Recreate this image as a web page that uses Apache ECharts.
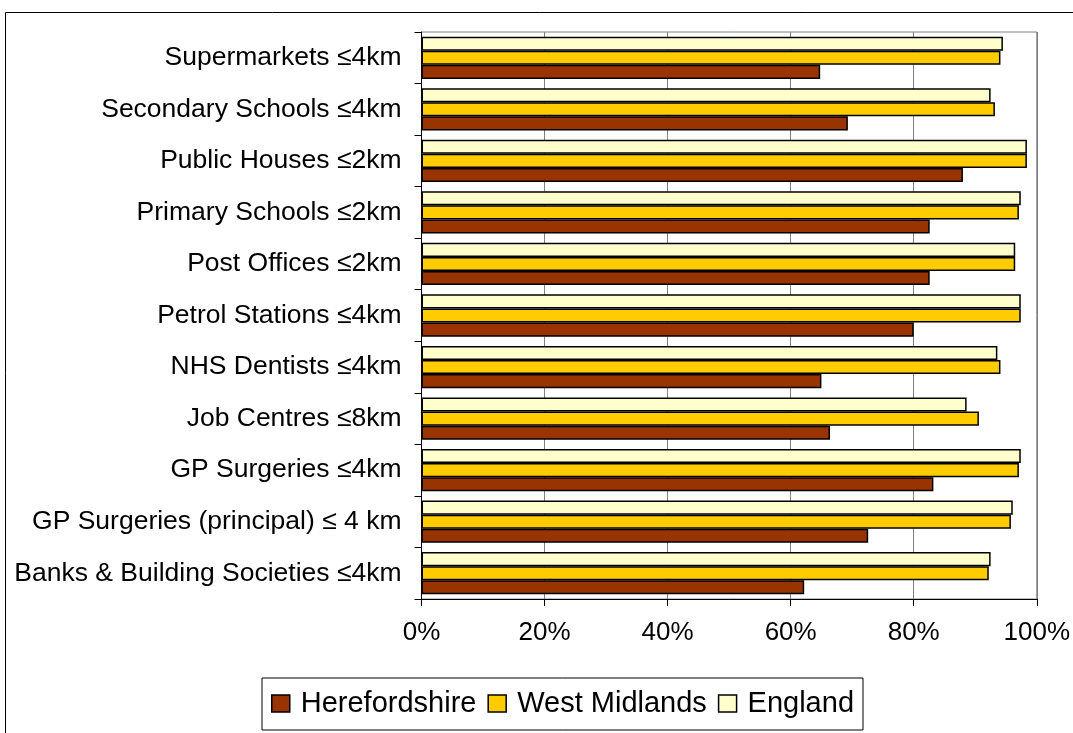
<!DOCTYPE html>
<html>
<head>
<meta charset="utf-8">
<script src="https://cdn.jsdelivr.net/npm/echarts@6/dist/echarts.min.js"></script>
<style>
html,body{margin:0;padding:0;background:#fff;}
#chart{width:1073px;height:733px;}
</style>
</head>
<body>
<div id="chart"></div>
<script>
// Categories listed bottom to top
var categories = [
  "Banks & Building Societies ≤4km",
  "GP Surgeries (principal) ≤ 4 km",
  "GP Surgeries ≤4km",
  "Job Centres ≤8km",
  "NHS Dentists ≤4km",
  "Petrol Stations ≤4km",
  "Post Offices ≤2km",
  "Primary Schools ≤2km",
  "Public Houses ≤2km",
  "Secondary Schools ≤4km",
  "Supermarkets ≤4km"
];
var seriesNames = ["Herefordshire", "West Midlands", "England"];
var herefordshire = [62.2, 72.6, 83.2, 66.4, 65.0, 80.0, 82.6, 82.6, 88.0, 69.3, 64.8];
var westMidlands  = [92.2, 95.8, 97.1, 90.6, 94.1, 97.4, 96.5, 97.1, 98.4, 93.2, 94.1];
var england       = [92.5, 96.1, 97.4, 88.6, 93.6, 97.4, 96.5, 97.4, 98.4, 92.5, 94.5];
var xTicks = [0, 20, 40, 60, 80, 100];

var colors = ["#993300", "#FFCC00", "#FFFFCC"];
var FONT = "Liberation Sans, Arial, sans-serif";

var chart = echarts.init(document.getElementById('chart'), null, {renderer: 'canvas'});
function mk(name, data, color) {
  return {
    name: name, type: 'bar', data: data,
    barGap: '0%', barCategoryGap: '18%',
    itemStyle: {color: color, borderColor: '#000', borderWidth: 1.5},
    emphasis: {disabled: true}
  };
}
chart.setOption({
  animation: false,
  backgroundColor: '#fff',
  textStyle: {fontFamily: FONT},
  graphic: [{
    type: 'rect', silent: true,
    shape: {x: 5.5, y: 12.5, width: 1200, height: 900},
    style: {fill: 'none', stroke: '#000', lineWidth: 1}
  }],
  grid: {left: 421.5, right: 33.5, top: 32, bottom: 134, show: true, borderColor: '#808080', borderWidth: 1, backgroundColor: 'transparent'},
  legend: {
    data: seriesNames,
    left: 262, top: 678,
    padding: [11, 9, 12, 9],
    borderColor: '#000', borderWidth: 1,
    itemWidth: 18, itemHeight: 17, itemGap: 11,
    icon: 'rect',
    itemStyle: {borderColor: '#000', borderWidth: 1.5},
    textStyle: {fontSize: 29, color: '#000', fontFamily: FONT, padding: [0, 0, 0, 6]}
  },
  xAxis: {
    type: 'value', min: xTicks[0], max: xTicks[xTicks.length - 1], interval: 20,
    axisLine: {show: true, lineStyle: {color: '#000', width: 1}},
    axisTick: {show: true, length: 7, lineStyle: {color: '#000'}},
    splitLine: {show: true, lineStyle: {color: '#808080', width: 1}},
    axisLabel: {formatter: '{value}%', fontSize: 26, color: '#000', margin: 21, fontFamily: FONT}
  },
  yAxis: {
    type: 'category', data: categories,
    axisLine: {show: true, lineStyle: {color: '#000', width: 1}},
    axisTick: {show: true, length: 7, lineStyle: {color: '#000'}},
    axisLabel: {fontSize: 26.5, color: '#000', margin: 20, fontFamily: FONT}
  },
  // series listed top-to-bottom within each band (England top, Herefordshire bottom)
  series: [
    mk(seriesNames[2], england, colors[2]),
    mk(seriesNames[1], westMidlands, colors[1]),
    mk(seriesNames[0], herefordshire, colors[0])
  ]
});
</script>
</body>
</html>
